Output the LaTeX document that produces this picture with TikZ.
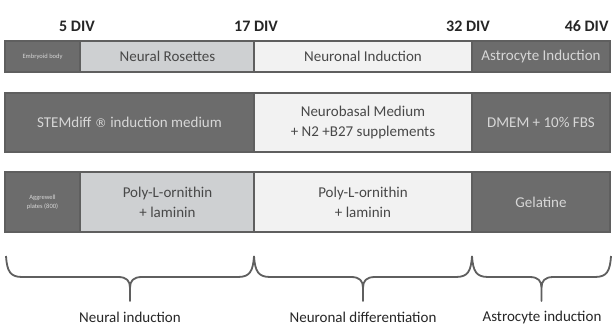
\documentclass[tikz,border=0pt]{standalone}
\usepackage{fontspec}
\setmainfont{Carlito}
\newfontfamily\symbolfont{DejaVu Sans}
\usetikzlibrary{calc}
\definecolor{DarkCell}{RGB}{108,108,108}
\definecolor{LightCell}{RGB}{206,208,210}
\definecolor{WhiteCell}{RGB}{242,242,242}
\definecolor{DarkText}{RGB}{72,72,72}
\definecolor{PaleText}{RGB}{215,215,215}
\definecolor{EdgeGray}{RGB}{95,95,95}
\tikzset{
  cell/.style={draw=EdgeGray,line width=1.2pt,inner sep=0pt,outer sep=0pt,
    align=center,font=\fontsize{15}{20}\selectfont},
  darkcell/.style={cell,fill=DarkCell,text=PaleText},
  lightcell/.style={cell,fill=LightCell,text=DarkText},
  whitecell/.style={cell,fill=WhiteCell,text=DarkText},
  tinytext/.style={font=\fontsize{6.5}{9}\selectfont},
  divlabel/.style={font=\bfseries\fontsize{16}{18}\selectfont,text=black!85},
  phaselabel/.style={font=\fontsize{15}{17}\selectfont,text=black!85},
  phasebrace/.style={draw=EdgeGray,line width=1.8pt,line join=round}
}
% brace between two named coordinates, tip pointing down
\newcommand\PhaseBrace[2]{%
  \draw[phasebrace] let \p1=(#1), \p2=(#2), \n1={(\x1+\x2)/2} in
    (\x1,\y1) .. controls (\x1+1pt,\y1-15pt) and (\x1+4pt,\y1-21pt) .. (\x1+16pt,\y1-21pt)
    -- (\n1-12pt,\y1-21pt) .. controls (\n1-3pt,\y1-21pt) and (\n1,\y1-25pt) .. (\n1,\y1-32pt)
    -- (\n1,\y1-45pt) -- (\n1,\y1-32pt)
    .. controls (\n1,\y1-25pt) and (\n1+3pt,\y1-21pt) .. (\n1+12pt,\y1-21pt)
    -- (\x2-16pt,\y1-21pt) .. controls (\x2-4pt,\y1-21pt) and (\x2-1pt,\y1-15pt) .. (\x2,\y1);}
\begin{document}
\begin{tikzpicture}[x=1pt,y=-1pt]
  \useasboundingbox[fill=white] (0,0) rectangle (615,331);
  % day labels
  \node[divlabel] (d5) at (77,26) {5 DIV};
  \node[divlabel] (d17) at (256,26) {17 DIV};
  \node[divlabel] (d32) at (468,26) {32 DIV};
  \node[divlabel,anchor=east] (d46) at (612,26) {46 DIV};
  % stage row
  \node[darkcell,tinytext,minimum width=75pt,minimum height=31pt] (ebody) at (42.5,56.5) {Embryoid body};
  \node[lightcell,minimum width=174pt,minimum height=31pt] (rosettes) at (167.5,56.5) {Neural Rosettes};
  \node[whitecell,minimum width=218pt,minimum height=31pt] (neuind) at (363,56.5) {Neuronal Induction};
  \node[darkcell,minimum width=138pt,minimum height=31pt] (astind) at (541,56.5) {Astrocyte Induction};
  % medium row
  \node[darkcell,minimum width=249pt,minimum height=59pt] (stemdiff) at (129.5,122.5) {STEMdiff {\symbolfont\fontsize{12}{14}\selectfont ®} induction medium};
  \node[whitecell,minimum width=218pt,minimum height=59pt] (neurobasal) at (363,122.5) {Neurobasal Medium\\+ N2 +B27 supplements};
  \node[darkcell,minimum width=138pt,minimum height=59pt] (dmem) at (541,122.5) {DMEM + 10\% FBS};
  % coating row
  \node[darkcell,tinytext,minimum width=75pt,minimum height=60pt] (aggre) at (42.5,202) {Aggrewell\\plates (800)};
  \node[lightcell,minimum width=174pt,minimum height=60pt] (polyA) at (167.5,202) {Poly-L-ornithin\\+ laminin};
  \node[whitecell,minimum width=218pt,minimum height=60pt] (polyB) at (363,202) {Poly-L-ornithin\\+ laminin};
  \node[darkcell,minimum width=138pt,minimum height=60pt] (gelatine) at (541,202) {Gelatine};
  % braces
  \coordinate (b0) at (6,256);
  \coordinate (b1) at (254,256);
  \coordinate (b2) at (472,256);
  \coordinate (b3) at (611,256);
  \PhaseBrace{b0}{b1}
  \PhaseBrace{b1}{b2}
  \PhaseBrace{b2}{b3}
  % phase labels
  \node[phaselabel] (pneural) at (130,317) {Neural induction};
  \node[phaselabel] (pdiff) at (363,317) {Neuronal differentiation};
  \node[phaselabel] (pastro) at (542,317) {Astrocyte induction};
\end{tikzpicture}
\end{document}
